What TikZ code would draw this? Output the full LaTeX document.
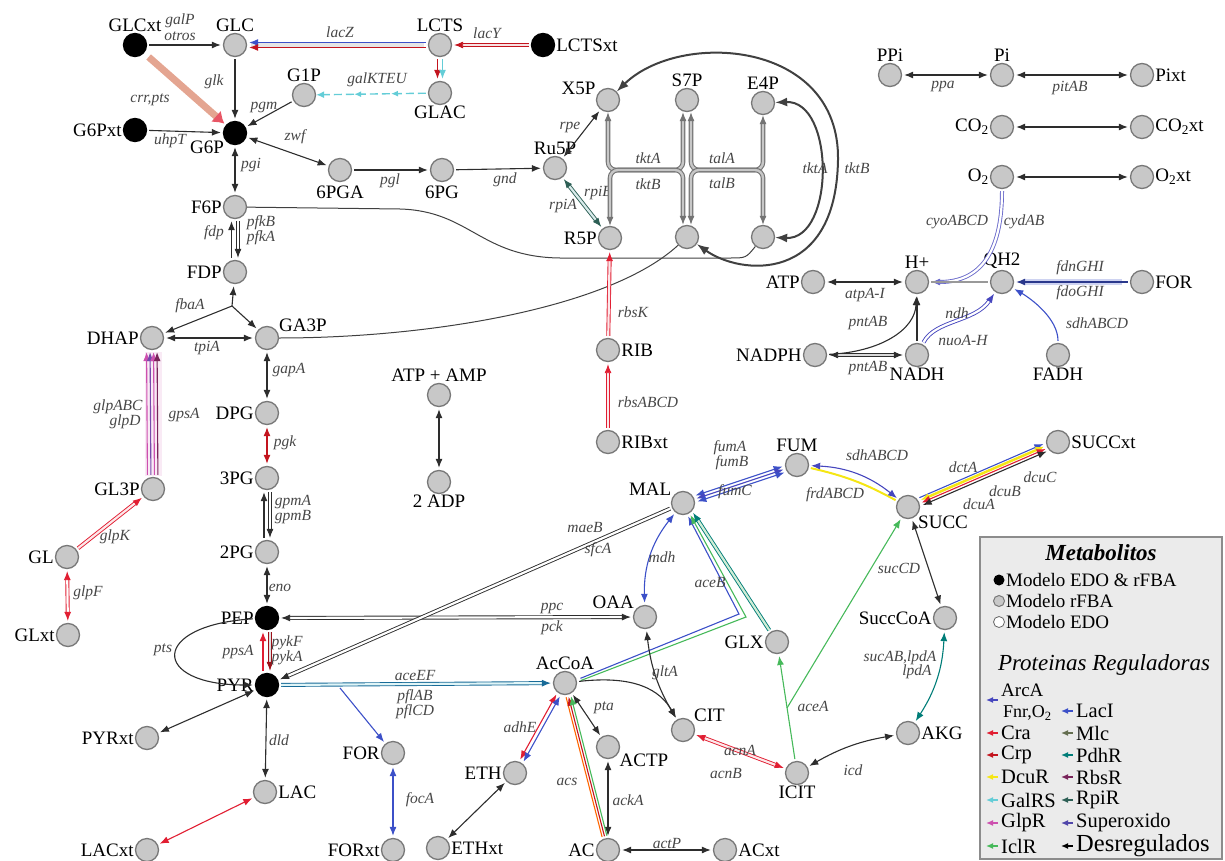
\documentclass[tikz,border=0pt]{standalone}
\usepackage{fontspec}
\setmainfont{Liberation Serif}
\usepackage{tikz}
\usetikzlibrary{arrows.meta, decorations.markings, positioning}

\definecolor{metfill}{RGB}{200,200,200}
\definecolor{metline}{RGB}{120,120,120}
\definecolor{rxline}{RGB}{45,45,45}
\definecolor{genetx}{RGB}{70,70,70}
\definecolor{cArc}{RGB}{70,70,190}
\definecolor{cCra}{RGB}{225,30,50}
\definecolor{cCrp}{RGB}{195,20,30}
\definecolor{cDcu}{RGB}{245,230,20}
\definecolor{cGal}{RGB}{100,205,215}
\definecolor{cGlp}{RGB}{205,80,175}
\definecolor{cIcl}{RGB}{70,185,90}
\definecolor{cLac}{RGB}{60,80,200}
\definecolor{cMlc}{RGB}{100,110,80}
\definecolor{cPdh}{RGB}{0,125,120}
\definecolor{cRbs}{RGB}{120,35,90}
\definecolor{cRpi}{RGB}{45,95,85}
\definecolor{cSup}{RGB}{80,70,170}
\definecolor{crrband}{RGB}{228,165,145}

\tikzset{
  met/.style={circle, draw=metline, fill=metfill, line width=1.3pt, minimum size=23pt, inner sep=0pt},
  metx/.style={met, draw=black, fill=black},
  lbl/.style={font=\fontsize{19}{21}\selectfont, inner sep=1pt},
  gen/.style={font=\fontsize{15.5}{17}\selectfont\itshape, text=genetx, inner sep=1pt},
  rx/.style={line width=1.1pt, shorten >=2pt, shorten <=2pt},
  bk/.style={rx, draw=rxline},
  pr/.style={rx, double distance=2.2pt, line width=0.9pt},
  ppp/.style={draw=black!55, double=black!22, double distance=2.4pt, line width=1.1pt},
  bigarc/.style={draw=black!75, line width=2pt, >={Latex[length=12pt,width=9pt]}},
  thn/.style={draw=black!75, line width=1pt},
  galline/.style={rx, draw=cGal, line width=1.4pt, dash pattern=on 8pt off 4pt,
    postaction={decorate}, decoration={markings,
      mark=at position 0.33 with {\arrow{Latex[length=7pt,width=6pt]}},
      mark=at position 0.66 with {\arrow{Latex[length=7pt,width=6pt]}},
      mark=at position 1 with {\arrow{Latex[length=8pt,width=7pt]}}}},
  lgar/.style={line width=1.3pt, {Latex[length=7pt,width=6pt]}-},
  lgtx/.style={font=\fontsize{20.5}{22}\selectfont, inner sep=0pt, anchor=west}
}

\begin{document}
\begin{tikzpicture}[x=1pt, y=-1pt, >={Latex[length=9pt,width=7pt]}]
\useasboundingbox (0,0) rectangle (1225,861);

% Glucose and lactose
\node[metx, label={[lbl]above:GLCxt}] (GLCxt) at (135,45) {};
\node[met, label={[lbl]above:GLC}] (GLC) at (235,45) {};
\node[met, label={[lbl]above:LCTS}] (LCTS) at (440,45) {};
\node[metx, label={[lbl]right:LCTSxt}] (LCTSxt) at (543,45) {};
\node[met, label={[lbl]above:G1P}] (G1P) at (304,95) {};
\node[met, label={[lbl]below:GLAC}] (GLAC) at (440,93) {};
\node[metx, label={[lbl]left:G6Pxt}] (G6Pxt) at (135,130) {};
\node[metx, label={[lbl]-145:G6P}] (G6P) at (235,133) {};

% Pentose phosphate
\node[met, label={[lbl,label distance=3pt]below:6PGA}] (P6GA) at (340,170) {};
\node[met, label={[lbl,label distance=3pt]below:6PG}] (PG6) at (442,170) {};
\node[met, label={[lbl]above:Ru5P}] (Ru5P) at (555,168) {};
\node[met, label={[lbl]160:X5P}] (X5P) at (608,100) {};
\node[met, label={[lbl]above:S7P}] (S7P) at (687,100) {};
\node[met, label={[lbl]above:E4P}] (E4P) at (763,103) {};
\node[met, label={[lbl]left:R5P}] (R5P) at (610,238) {};
\node[met] (S7Pb) at (687,237) {};
\node[met] (F6Pb) at (763,237) {};
\node[met, label={[lbl]right:RIB}] (RIB) at (608,350) {};
\node[met, label={[lbl]right:RIBxt}] (RIBxt) at (608,442) {};

% Glycolysis
\node[met, label={[lbl]left:F6P}] (F6P) at (235,207) {};
\node[met, label={[lbl]left:FDP}] (FDP) at (235,272) {};
\node[met, label={[lbl]left:DHAP}] (DHAP) at (152,338) {};
\node[met, label={[lbl]25:GA3P}] (GA3P) at (267,338) {};
\node[met, label={[lbl]left:DPG}] (DPG) at (267,413) {};
\node[met, label={[lbl]left:3PG}] (PG3) at (267,478) {};
\node[met, label={[lbl]left:2PG}] (PG2) at (267,552) {};
\node[metx, label={[lbl]left:PEP}] (PEP) at (267,618) {};
\node[metx, label={[lbl]left:PYR}] (PYR) at (267,685) {};
\node[met, label={[lbl]left:GL3P}] (GL3P) at (153,489) {};
\node[met, label={[lbl]left:GL}] (GL) at (67,557) {};
\node[met, label={[lbl]left:GLxt}] (GLxt) at (68,635) {};
\node[met, label={[lbl]left:PYRxt}] (PYRxt) at (147,738) {};
\node[met, label={[lbl]right:LAC}] (LAC) at (265,792) {};
\node[met, label={[lbl]left:LACxt}] (LACxt) at (147,850) {};
\node[met, label={[lbl]left:FOR}] (FORm) at (393,753) {};
\node[met, label={[lbl]left:FORxt}] (FORxt) at (393,850) {};
\node[met, label={[lbl]above:ATP + AMP}] (ATPAMP) at (439,395) {};
\node[met, label={[lbl]below:2 ADP}] (ADP2) at (439,482) {};

% TCA cycle and fermentation
\node[met, label={[lbl]150:MAL}] (MAL) at (683,503) {};
\node[met, label={[lbl]above:FUM}] (FUM) at (797,465) {};
\node[met, label={[lbl]-42:SUCC}] (SUCC) at (908,507) {};
\node[met, label={[lbl]right:SUCCxt}] (SUCCxt) at (1058,442) {};
\node[met, label={[lbl]145:OAA}] (OAA) at (645,617) {};
\node[met, label={[lbl]above:AcCoA}] (AcCoA) at (565,683) {};
\node[met, label={[lbl]35:CIT}] (CIT) at (683,730) {};
\node[met, label={[lbl]-30:ACTP}] (ACTP) at (608,747) {};
\node[met, label={[lbl]left:ETH}] (ETH) at (515,773) {};
\node[met, label={[lbl]right:ETHxt}] (ETHxt) at (438,848) {};
\node[met, label={[lbl]left:AC}] (AC) at (608,850) {};
\node[met, label={[lbl]right:ACxt}] (ACxt) at (725,850) {};
\node[met, label={[lbl]below:ICIT}] (ICIT) at (797,773) {};
\node[met, label={[lbl]left:GLX}] (GLX) at (777,642) {};
\node[met, label={[lbl]left:SuccCoA}] (SuccCoA) at (945,618) {};
\node[met, label={[lbl]right:AKG}] (AKG) at (908,733) {};

% Cofactors
\node[met, label={[lbl]above:PPi}] (PPi) at (890,75) {};
\node[met, label={[lbl]above:Pi}] (Pi) at (1002,75) {};
\node[met, label={[lbl]right:Pixt}] (Pixt) at (1142,75) {};
\node[met, label={[lbl]left:CO\textsubscript{2}}] (CO2) at (1002,127) {};
\node[met, label={[lbl]right:CO\textsubscript{2}xt}] (CO2xt) at (1142,127) {};
\node[met, label={[lbl]left:O\textsubscript{2}}] (O2) at (1002,177) {};
\node[met, label={[lbl]right:O\textsubscript{2}xt}] (O2xt) at (1142,177) {};
\node[met, label={[lbl]left:ATP}] (ATP) at (813,282) {};
\node[met, label={[lbl]above:H+}] (Hp) at (917,282) {};
\node[met, label={[lbl]above:QH2}] (QH2) at (1002,282) {};
\node[met, label={[lbl]right:FOR}] (FORr) at (1142,282) {};
\node[met, label={[lbl]left:NADPH}] (NADPH) at (815,355) {};
\node[met, label={[lbl]below:NADH}] (NADH) at (917,355) {};
\node[met, label={[lbl]below:FADH}] (FADH) at (1058,355) {};

% Uptake
\draw[bk,->] (GLCxt) -- (GLC);
\node[gen] (gGalP) at (180,21) {galP};
\node[gen] (gOtros) at (180,36) {otros};
\draw[line width=7pt, crrband, shorten <=6pt, shorten >=2pt, -{Latex[length=11pt,width=15pt,color=cCra!75]}] (GLCxt) -- (G6P);
\node[gen] (gCrr) at (150,100) {crr,pts};
\draw[bk,->] (G6Pxt) -- (G6P);
\node[gen] (gUhp) at (170,141) {uhpT};
\draw[bk,->] (GLC) -- (G6P);
\node[gen] (gGlk) at (214,82) {glk};
\draw[bk,->] (G1P) -- (G6P);
\node[gen] (gPgm) at (264,107) {pgm};
\draw[galline] (GLAC) -- (G1P);
\node[gen] (gGalK) at (377,80) {galKTEU};
\draw[line width=5pt, black!10, shorten <=4pt, shorten >=4pt] (LCTS) -- (GLC);
\draw[rx, draw=cLac, ->, transform canvas={yshift=2.5pt}] (LCTS) -- (GLC);
\draw[rx, draw=cCrp, ->, transform canvas={yshift=-2.5pt}] (LCTS) -- (GLC);
\node[gen] (gLacZ) at (340,32) {lacZ};
\draw[pr, draw=cCrp, double=cCrp!12, ->] (LCTSxt) -- (LCTS);
\node[gen] (gLacY) at (487,33) {lacY};
\draw[rx, draw=cCrp, ->, transform canvas={xshift=-2.5pt}] (LCTS) -- (GLAC);
\draw[rx, draw=cGal, ->, transform canvas={xshift=2.5pt}] (LCTS) -- (GLAC);

% Oxidative branch
\draw[bk,<->] (G6P) -- (P6GA);
\node[gen] (gZwf) at (295,137) {zwf};
\draw[bk,->] (P6GA) -- (PG6);
\node[gen] (gPgl) at (390,181) {pgl};
\draw[bk,->] (PG6) -- (Ru5P);
\node[gen] (gGnd) at (505,180) {gnd};
\draw[bk,<->] (Ru5P) -- (X5P);
\node[gen] (gRpe) at (570,127) {rpe};
\draw[pr, draw=cRpi, double=cPdh!15, <->] (Ru5P) -- (R5P);
\node[gen] (gRpiB) at (598,193) {rpiB};
\node[gen] (gRpiA) at (563,206) {rpiA};

% Non-oxidative branch
\draw[ppp,rounded corners=8pt,->] (645,170) -| (X5P);
\draw[ppp,rounded corners=8pt,->] (645,170) -| (R5P);
\draw[ppp,rounded corners=8pt,->] (645,170) -| ([xshift=-4pt]S7P.south);
\draw[ppp,rounded corners=8pt,->] (645,170) -| ([xshift=-4pt]S7Pb.north);
\draw[ppp,rounded corners=8pt,->] (725,170) -| ([xshift=4pt]S7P.south);
\draw[ppp,rounded corners=8pt,->] (725,170) -| ([xshift=4pt]S7Pb.north);
\draw[ppp,rounded corners=8pt,->] (725,170) -| (E4P);
\draw[ppp,rounded corners=8pt,->] (725,170) -| (F6Pb);
\node[gen] (gTktA) at (648,158) {tktA};
\node[gen] (gTktB) at (648,184) {tktB};
\node[gen] (gTalA) at (722,158) {talA};
\node[gen] (gTalB) at (722,183) {talB};
\draw[bigarc,<->] (X5P) .. controls (680,30) and (840,40) .. (838,160) .. controls (836,285) and (740,275) .. (S7Pb);
\draw[bigarc,<->] (E4P) .. controls (835,100) and (835,240) .. (F6Pb);
\node[gen] (gTktA2) at (815,168) {tktA};
\node[gen] (gTktB2) at (857,168) {tktB};
\draw[thn] (F6P) -- (400,209) .. controls (470,211) and (480,257) .. (560,258) -- (730,258) .. controls (746,258) .. (F6Pb);
\draw[thn] (GA3P) .. controls (430,338) and (610,308) .. (S7Pb);
\draw[pr, draw=cCra, double=cCra!10, ->] (RIBxt) -- (RIB);
\node[gen] (gRbsA) at (648,402) {rbsABCD};
\draw[pr, draw=cCra, double=cCra!10, ->] (RIB) -- (R5P);
\node[gen] (gRbsK) at (633,312) {rbsK};

% Glycolysis reactions
\draw[bk,<->] (G6P) -- (F6P);
\node[gen] (gPgi) at (251,165) {pgi};
\draw[bk,->,transform canvas={xshift=-3.5pt}] (FDP) -- (F6P);
\node[gen] (gFdp) at (214,233) {fdp};
\draw[pr,draw=rxline,double=white,->,transform canvas={xshift=3pt}] (F6P) -- (FDP);
\node[gen] (gPfkB) at (261,223) {pfkB};
\node[gen] (gPfkA) at (261,238) {pfkA};
\coordinate (fba) at (232,306);
\draw[bk,->,shorten <=0pt] (fba) -- (FDP);
\draw[bk,->,shorten <=0pt] (fba) -- (DHAP);
\draw[bk,->,shorten <=0pt] (fba) -- (GA3P);
\node[gen] (gFba) at (190,306) {fbaA};
\draw[bk,<->] (DHAP) -- (GA3P);
\node[gen] (gTpi) at (207,348) {tpiA};
\draw[bk,<->] (GA3P) -- (DPG);
\node[gen] (gGap) at (289,370) {gapA};
\draw[rx,draw=cCrp,<->] (DPG) -- (PG3);
\node[gen] (gPgk) at (285,443) {pgk};
\draw[bk,->,transform canvas={xshift=-3pt}] (PG2) -- (PG3);
\draw[pr,draw=rxline,double=white,->,transform canvas={xshift=3pt}] (PG3) -- (PG2);
\node[gen] (gGpmA) at (293,502) {gpmA};
\node[gen] (gGpmB) at (293,517) {gpmB};
\draw[bk,<->] (PG2) -- (PEP);
\node[gen] (gEno) at (280,588) {eno};
\draw[rx,draw=cCra,->,transform canvas={xshift=-4pt}] (PYR) -- (PEP);
\node[gen] (gPps) at (238,652) {ppsA};
\draw[pr,draw=cCrp!80!black,double=black!12,->,transform canvas={xshift=3pt}] (PEP) -- (PYR);
\node[gen] (gPykF) at (287,643) {pykF};
\node[gen] (gPykA) at (287,658) {pykA};
\draw[bk,->] (PEP) .. controls (150,625) and (150,685) .. (PYR);
\node[gen] (gPts) at (163,650) {pts};

% Glycerol
\fill[cGlp!12] (145,352) rectangle (162,476);
\draw[rx,draw=cGlp,->,transform canvas={xshift=-5.5pt}] (GL3P) -- (DHAP);
\draw[rx,draw=cSup!70!cGlp,->,transform canvas={xshift=-2pt}] (GL3P) -- (DHAP);
\draw[rx,draw=cGlp,->,transform canvas={xshift=1.5pt}] (GL3P) -- (DHAP);
\draw[rx,draw=cRbs,->,transform canvas={xshift=5pt}] (GL3P) -- (DHAP);
\node[gen] (gGlpABC) at (118,407) {glpABC};
\node[gen] (gGlpD) at (125,422) {glpD};
\node[gen] (gGps) at (184,415) {gpsA};
\draw[pr,draw=cCra,double=cCra!10,->] (GL) -- (GL3P);
\node[gen] (gGlpK) at (115,537) {glpK};
\draw[pr,draw=cCra,double=white,<->] (GLxt) -- (GL);
\node[gen] (gGlpF) at (88,593) {glpF};

% Pyruvate node
\draw[bk,<->] (PYR) -- (PYRxt);
\draw[bk,<->] (PYR) -- (LAC);
\node[gen] (gDld) at (279,740) {dld};
\draw[rx,draw=cCra,<->] (LAC) -- (LACxt);
\draw[pr,draw=cPdh!60!cLac,double=cGal!20,->] (PYR) -- (AcCoA);
\node[gen] (gAceEF) at (415,675) {aceEF};
\node[gen] (gPflAB) at (415,697) {pflAB};
\node[gen] (gPflCD) at (415,712) {pflCD};
\coordinate (pfl) at (340,688);
\draw[rx,draw=cLac,->,shorten <=0pt] (pfl) -- (FORm);
\draw[rx,draw=cLac,<->] (FORm) -- (FORxt);
\node[gen] (gFocA) at (420,800) {focA};
\draw[pr,draw=rxline,double=white,<->] (PEP) -- (OAA);
\node[gen] (gPpc) at (552,608) {ppc};
\node[gen] (gPck) at (552,628) {pck};
\draw[pr,draw=rxline,double=white,->] (MAL) -- (PYR);
\node[gen] (gMaeB) at (585,527) {maeB};
\node[gen] (gSfcA) at (598,550) {sfcA};

% TCA reactions
\draw[rx,draw=cLac,<->] (MAL) to[bend right=20] (OAA);
\node[gen] (gMdh) at (662,557) {mdh};
\draw[rx,draw=cLac,->,shorten <=4pt] (AcCoA.15) -- (739,614) -- (MAL.-70);
\draw[rx,draw=cIcl,->,shorten <=4pt] (AcCoA.5) -- (746,617) -- (MAL.-58);
\draw[pr,draw=cPdh,double=cIcl!25,->] (GLX) -- (MAL.-42);
\node[gen] (gAceB) at (710,582) {aceB};
\draw[bk,<->] (OAA) to[bend right=12] (CIT);
\draw[bk,->] (AcCoA) .. controls (635,675) and (660,690) .. (CIT);
\node[gen] (gGlt) at (665,673) {gltA};
\draw[pr,draw=cCra,double=cCra!10,<->] (CIT) -- (ICIT);
\node[gen] (gAcnA) at (740,750) {acnA};
\node[gen] (gAcnB) at (726,773) {acnB};
\draw[rx,draw=cIcl,->] (ICIT) -- (GLX);
\coordinate (aceAj) at (787,708);
\draw[rx,draw=cIcl,->,shorten <=0pt] (aceAj) -- (SUCC);
\node[gen] (gAceA) at (813,706) {aceA};
\draw[bk,<->] (ICIT) to[bend left=10] (AKG);
\node[gen] (gIcd) at (853,770) {icd};
\draw[rx,draw=cPdh,<->] (AKG) to[bend right=15] (SuccCoA);
\node[gen] (gSucAB) at (900,658) {sucAB,lpdA};
\node[gen] (gLpdA) at (917,672) {lpdA};
\draw[bk,<->] (SUCC) -- (SuccCoA);
\node[gen] (gSucCD) at (899,568) {sucCD};
\draw[rx,draw=cDcu,line width=2pt] (FUM) to[bend left=8] (SUCC);
\draw[rx,draw=cArc,<->] (FUM) to[bend left=18] (SUCC);
\node[gen] (gSdh) at (877,455) {sdhABCD};
\node[gen] (gFrd) at (835,495) {frdABCD};
\draw[rx,draw=cLac,->,transform canvas={shift={(-1.6pt,3.7pt)}}] (SUCC) -- (SUCCxt);
\draw[rx,draw=cDcu,line width=2.5pt,<->,transform canvas={shift={(-0.5pt,1.2pt)}}] (SUCC) -- (SUCCxt);
\draw[rx,draw=cCra,<->,transform canvas={shift={(0.6pt,-1.3pt)}}] (SUCC) -- (SUCCxt);
\draw[rx,draw=rxline,<->,transform canvas={shift={(1.7pt,-3.8pt)}}] (SUCC) -- (SUCCxt);
\node[gen] (gDctA) at (963,467) {dctA};
\node[gen] (gDcuC) at (1040,477) {dcuC};
\node[gen] (gDcuB) at (1005,491) {dcuB};
\node[gen] (gDcuA) at (979,504) {dcuA};
\draw[rx,draw=cLac,<->,transform canvas={shift={(-1pt,3pt)}}] (MAL) -- (FUM);
\draw[rx,draw=cArc,<->] (MAL) -- (FUM);
\draw[rx,draw=cLac,<->,transform canvas={shift={(1pt,-3pt)}}] (MAL) -- (FUM);
\node[gen] (gFumA) at (730,448) {fumA};
\node[gen] (gFumB) at (732,463) {fumB};
\node[gen] (gFumC) at (735,492) {fumC};

% Fermentation products
\draw[rx,draw=cCra,<->,transform canvas={shift={(-1.7pt,1pt)}}] (ETH) -- (AcCoA);
\draw[rx,draw=cLac,<->,transform canvas={shift={(1.7pt,-1pt)}}] (ETH) -- (AcCoA);
\node[gen] (gAdhE) at (520,727) {adhE};
\draw[bk,<->] (AcCoA) -- (ACTP);
\node[gen] (gPta) at (604,708) {pta};
\draw[bk,<->] (ACTP) -- (AC);
\node[gen] (gAckA) at (628,800) {ackA};
\draw[rx,draw=orange!80!red,transform canvas={shift={(-2.4pt,-0.6pt)}}] (AC) -- (AcCoA);
\draw[rx,draw=cCrp,->] (AC) -- (AcCoA);
\draw[rx,draw=cIcl,->,transform canvas={shift={(2.4pt,0.6pt)}}] (AC) -- (AcCoA);
\node[gen] (gAcs) at (567,782) {acs};
\draw[bk,<->] (ETH) -- (ETHxt);
\draw[bk,<->] (AC) -- (ACxt);
\node[gen] (gActP) at (667,843) {actP};

% Energy and exchange
\draw[bk,<->] (PPi) -- (Pi);
\node[gen] (gPpa) at (943,86) {ppa};
\draw[bk,<->] (Pi) -- (Pixt);
\node[gen] (gPit) at (1070,88) {pitAB};
\draw[bk,<->] (CO2) -- (CO2xt);
\draw[bk,<->] (O2) -- (O2xt);
\draw[pr,draw=cArc!80,double=white,->] (O2) .. controls (1002,245) and (985,282) .. (Hp);
\node[gen] (gCyo) at (957,222) {cyoABCD};
\node[gen] (gCyd) at (1024,222) {cydAB};
\draw[rx,draw=black!40] (QH2) -- (Hp);
\draw[bk,<->] (ATP) -- (Hp);
\node[gen] (gAtp) at (865,295) {atpA-I};
\draw[line width=6pt, cLac!25, shorten <=8pt, shorten >=10pt] (FORr) -- (QH2);
\draw[rx,draw=cLac!70!black,->] (FORr) -- (QH2);
\node[gen] (gFdn) at (1080,268) {fdnGHI};
\node[gen] (gFdo) at (1080,293) {fdoGHI};
\draw[rx,draw=cLac,->] (FADH) .. controls (1058,318) and (1030,298) .. (QH2);
\node[gen] (gSdh2) at (1097,323) {sdhABCD};
\draw[pr,draw=cArc,double=white,->] (NADH) .. controls (935,320) and (975,322) .. (QH2);
\node[gen] (gNdh) at (957,313) {ndh};
\node[gen] (gNuo) at (963,340) {nuoA-H};
\draw[bk,->] (NADH) -- (Hp);
\draw[bk,->] (NADPH) .. controls (880,352) and (915,330) .. (Hp);
\node[gen] (gPnt1) at (868,323) {pntAB};
\draw[pr,draw=rxline,double=black!15,<->] (NADPH) -- (NADH);
\node[gen] (gPnt2) at (868,368) {pntAB};
\draw[bk,<->] (ATPAMP) -- (ADP2);

% Legend
\draw[draw=black!45, fill=black!8, line width=1.5pt] (980,537) rectangle (1222,859);
\node[font=\fontsize{23}{25}\selectfont\bfseries\itshape] (lgTitle) at (1101,553) {Metabolitos};
\node[circle, fill=black, minimum size=11pt, inner sep=0pt] (lgA) at (999,580) {};
\node[lbl, anchor=west] (lgAt) at (1005,580) {Modelo EDO \& rFBA};
\node[circle, draw=metline, fill=metfill, line width=1pt, minimum size=11pt, inner sep=0pt] (lgB) at (999,601) {};
\node[lbl, anchor=west] (lgBt) at (1005,601) {Modelo rFBA};
\node[circle, draw=black!60, fill=white, line width=0.8pt, minimum size=11pt, inner sep=0pt] (lgC) at (999,622) {};
\node[lbl, anchor=west] (lgCt) at (1005,622) {Modelo EDO};
\node[font=\fontsize{23}{25}\selectfont\itshape] (lgSub) at (1104,665) {Proteinas Reguladoras};
\draw[lgar, draw=cArc] (986,700) -- (998,700);
\node[lgtx, font=\fontsize{19}{20}\selectfont] (lgArc) at (1001,690) {ArcA};
\node[lgtx, font=\fontsize{18}{19}\selectfont] (lgFnr) at (1003,713) {Fnr,O\textsubscript{2}};
\draw[lgar, draw=cCra] (986,733) -- (998,733);
\node[lgtx] (lgCra) at (1001,733) {Cra};
\draw[lgar, draw=cCrp] (986,755) -- (998,755);
\node[lgtx] (lgCrp) at (1001,755) {Crp};
\draw[lgar, draw=cDcu] (986,777) -- (998,777);
\node[lgtx] (lgDcu) at (1001,777) {DcuR};
\draw[lgar, draw=cGal] (986,800) -- (998,800);
\node[lgtx] (lgGal) at (1001,800) {GalRS};
\draw[lgar, draw=cGlp] (986,823) -- (998,823);
\node[lgtx] (lgGlp) at (1001,823) {GlpR};
\draw[lgar, draw=cIcl] (986,846) -- (998,846);
\node[lgtx] (lgIcl) at (1001,846) {IclR};
\draw[lgar, draw=cLac] (1061,711) -- (1073,711);
\node[lgtx] (lgLac) at (1076,711) {LacI};
\draw[lgar, draw=cMlc] (1061,733) -- (1073,733);
\node[lgtx] (lgMlc) at (1076,733) {Mlc};
\draw[lgar, draw=cPdh] (1061,755) -- (1073,755);
\node[lgtx] (lgPdh) at (1076,755) {PdhR};
\draw[lgar, draw=cRbs] (1061,777) -- (1073,777);
\node[lgtx] (lgRbs) at (1076,777) {RbsR};
\draw[lgar, draw=cRpi] (1061,800) -- (1073,800);
\node[lgtx] (lgRpi) at (1076,800) {RpiR};
\draw[lgar, draw=cSup] (1061,823) -- (1073,823);
\node[lgtx] (lgSup) at (1076,823) {Superoxido};
\draw[lgar, draw=black] (1061,846) -- (1073,846);
\node[lgtx, font=\fontsize{24.5}{26}\selectfont] (lgDes) at (1076,846) {Desregulados};
\end{tikzpicture}
\end{document}
